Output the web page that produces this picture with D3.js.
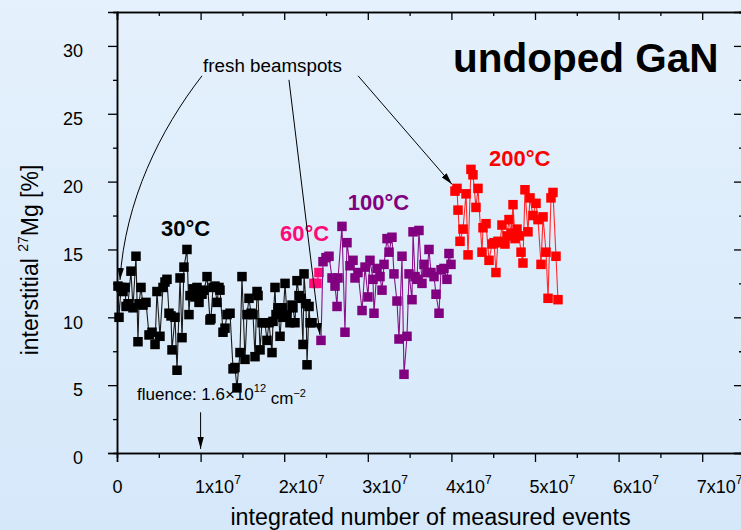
<!DOCTYPE html>
<html>
<head>
<meta charset="utf-8">
<script src="https://cdn.jsdelivr.net/npm/d3@7"></script>
<style>
  html, body { margin: 0; padding: 0; }
  body { width: 741px; height: 530px; overflow: hidden; font-family: "Liberation Sans", Arial, sans-serif; }
</style>
</head>
<body>
<svg id="chart" width="741" height="530"></svg>
<script>
// integrated events in units of 10^6, interstitial fraction in %
const blackX = [0.12,0.24,0.48,0.72,0.96,1.08,1.32,1.67,1.91,2.27,2.51,2.63,2.87,3.11,3.47,3.83,4.19,4.55,4.78,5.14,5.50,5.74,5.98,6.22,6.46,6.58,6.94,7.18,7.54,7.78,8.01,8.37,8.61,8.73,9.09,9.33,9.57,9.81,10.17,10.41,10.77,11.12,11.24,11.48,11.72,11.96,12.20,12.32,12.68,12.92,13.16,13.52,13.88,14.11,14.35,14.71,14.95,15.31,15.55,15.79,16.03,16.27,16.51,16.75,16.87,17.11,17.34,17.70,17.94,18.18,18.54,18.66,18.90,19.02,19.26,19.50,19.74,19.86,20.10,20.33,20.69,20.93,21.05,21.29,21.53,21.77,22.01,22.25,22.37,22.61,22.73,22.97,23.09,23.33];
const blackY = [12.3,10.0,12.2,11.9,12.2,10.8,11.0,13.4,10.7,14.5,8.2,11.0,12.2,10.9,11.1,8.7,8.9,8.0,11.9,8.6,12.2,12.6,12.8,10.3,10.1,7.6,10.0,6.1,12.9,8.5,13.7,15.0,10.2,11.6,12.1,11.5,12.2,11.1,11.7,12.0,13.0,9.8,9.9,12.2,12.3,11.1,12.2,12.0,8.9,9.2,10.2,10.3,6.2,6.3,4.8,7.4,13.0,6.9,10.2,11.4,10.3,10.2,7.1,11.9,11.6,7.6,9.6,9.6,8.3,9.6,7.4,9.7,12.2,10.2,10.7,8.6,10.7,10.0,12.5,10.2,9.6,10.9,10.7,9.6,12.7,11.6,11.4,8.0,13.2,11.0,6.5,10.8,9.6,9.6];

const pinkX = [23.56,23.92,24.16];
const pinkY = [12.5,12.5,13.3];

const purpleX = [24.40,24.64,25.00,25.36,25.72,26.08,26.32,26.44,26.91,27.27,27.51,27.87,28.23,28.47,28.83,29.31,29.67,30.02,30.26,30.62,30.74,31.10,31.46,31.70,31.94,32.30,32.54,32.89,33.13,33.49,33.73,34.09,34.33,34.69,34.93,35.29,35.41,35.65,35.89,36.12,36.48,36.72,37.08,37.32,37.56,37.92,38.16,38.52,38.76,39.11,39.47,39.71,39.95];
const purpleY = [8.3,14.1,14.4,14.5,12.9,12.3,10.8,12.9,16.7,8.9,15.5,13.8,14.2,12.9,13.3,10.5,13.7,11.5,14.2,12.8,10.3,13.6,13.0,12.0,13.9,15.8,14.8,15.9,13.2,11.2,8.4,14.5,5.8,8.6,13.2,11.3,16.3,13.0,12.8,16.4,12.5,13.9,13.3,15.0,13.3,13.0,11.7,10.3,13.5,13.6,12.8,14.7,13.9];

const redX = [40.43,40.67,40.79,41.03,41.39,41.75,41.99,42.34,42.58,42.94,43.18,43.66,43.78,44.14,44.50,44.86,45.10,45.33,45.57,45.81,46.05,46.41,46.65,46.89,47.13,47.37,47.61,47.85,48.09,48.33,48.56,48.80,49.16,49.40,49.76,50.12,50.36,50.72,50.96,51.32,51.56,51.91,52.15,52.51,52.75];
const redY = [19.3,19.5,17.9,15.6,16.5,19.1,14.6,20.9,20.5,18.1,19.5,14.8,16.6,16.9,14.2,15.4,15.5,13.3,15.6,15.5,16.8,15.4,16.0,17.2,16.2,18.3,15.8,16.5,16.0,14.8,14.0,19.4,16.3,18.8,17.5,18.4,17.2,13.9,17.4,14.8,11.4,18.8,19.2,14.5,11.3];

const xTicks = [0,10,20,30,40,50,60,70];
const xMinorTicks = [5,15,25,35,45,55,65,75];
const yTicks = [0,5,10,15,20,25,30];
const yMinorTicks = [2.5,7.5,12.5,17.5,22.5,27.5,32.5];

const series = [
  {name: "30°C",  xs: blackX,  ys: blackY,  color: "#000000", line: "#1a1a1a"},
  {name: "60°C",  xs: pinkX,   ys: pinkY,   color: "#ff0a78", line: "#ff0a78"},
  {name: "100°C", xs: purpleX, ys: purpleY, color: "#800080", line: "#8a108a"},
  {name: "200°C", xs: redX,    ys: redY,    color: "#ff0000", line: "#ff2a2a"}
];

const W = 741, H = 530;
const margin = {left: 117, right: -3, top: 12, bottom: 77};
const svg = d3.select("#chart");

// background wash
const defs = svg.append("defs");
const grad = defs.append("linearGradient").attr("id", "bg").attr("x1", 0).attr("y1", 0).attr("x2", 0).attr("y2", 1);
grad.append("stop").attr("offset", "0%").attr("stop-color", "#e5f1fc");
grad.append("stop").attr("offset", "100%").attr("stop-color", "#d5e8fa");
svg.append("rect").attr("width", W).attr("height", H).attr("fill", "url(#bg)");

defs.append("marker")
  .attr("id", "arrowhead").attr("viewBox", "0 0 12 8")
  .attr("refX", 12).attr("refY", 4)
  .attr("markerWidth", 12).attr("markerHeight", 8)
  .attr("markerUnits", "userSpaceOnUse")
  .attr("orient", "auto")
  .append("path").attr("d", "M0,0.8 L12,4 L0,7.2 Z").attr("fill", "#000");

const x = d3.scaleLinear().domain([0, 75]).range([margin.left, W - margin.right]);
const y = d3.scaleLinear().domain([0, 32.5]).range([H - margin.bottom, margin.top]);

const x0 = x.range()[0], x1 = x.range()[1];
const y0 = y.range()[0], y1 = y.range()[1];

// axes
function styleAxis(g) {
  g.select(".domain").attr("stroke", "#000").attr("stroke-width", 1.5);
  g.selectAll(".tick line").attr("stroke", "#000").attr("stroke-width", 1.3);
}

const fmtX = d => d === 0 ? "0" : (d / 10) + "x10";

const gxMinor = svg.append("g").attr("transform", `translate(0,${y0})`)
  .call(d3.axisBottom(x).tickValues(xMinorTicks).tickSize(5).tickFormat(""));
styleAxis(gxMinor);
const gx = svg.append("g").attr("transform", `translate(0,${y0})`)
  .call(d3.axisBottom(x).tickValues(xTicks).tickSize(9).tickPadding(18).tickFormat(fmtX));
styleAxis(gx);
gx.selectAll(".tick text")
  .attr("font-size", 18).attr("font-family", "Liberation Sans, Arial, sans-serif").attr("fill", "#000")
  .attr("text-anchor", d => d === 0 ? "middle" : "start")
  .attr("x", d => d === 0 ? 0 : -6)
  .each(function(d) {
    if (d !== 0) {
      d3.select(this).append("tspan").attr("font-size", 12).attr("dy", "-0.75em").text("7");
    }
  });

const gyMinor = svg.append("g").attr("transform", `translate(${x0},0)`)
  .call(d3.axisLeft(y).tickValues(yMinorTicks).tickSize(4).tickFormat(""));
styleAxis(gyMinor);
const gy = svg.append("g").attr("transform", `translate(${x0},0)`)
  .call(d3.axisLeft(y).tickValues(yTicks).tickSize(9).tickPadding(25).tickFormat(d3.format("d")));
styleAxis(gy);
gy.selectAll(".tick text")
  .attr("font-size", 18).attr("font-family", "Liberation Sans, Arial, sans-serif").attr("fill", "#000")
  .attr("dy", "0.6em");

// mirrored top and right axes with inward ticks
const gtMinor = svg.append("g").attr("transform", `translate(0,${y1})`)
  .call(d3.axisTop(x).tickValues(xMinorTicks).tickSize(-4).tickFormat(""));
styleAxis(gtMinor);
const gt = svg.append("g").attr("transform", `translate(0,${y1})`)
  .call(d3.axisTop(x).tickValues(xTicks).tickSize(-8).tickFormat(""));
styleAxis(gt);

const grMinor = svg.append("g").attr("transform", `translate(${x1},0)`)
  .call(d3.axisRight(y).tickValues(yMinorTicks).tickSize(-5).tickFormat(""));
styleAxis(grMinor);
const gr = svg.append("g").attr("transform", `translate(${x1},0)`)
  .call(d3.axisRight(y).tickValues(yTicks).tickSize(-10).tickFormat(""));
styleAxis(gr);

// axis titles
svg.append("text")
  .attr("x", (x0 + x1) / 2).attr("y", 525)
  .attr("text-anchor", "middle").attr("font-size", 23.3).attr("fill", "#000")
  .text("integrated number of measured events");

const yt = svg.append("text")
  .attr("transform", `translate(38,260) rotate(-90)`)
  .attr("text-anchor", "middle").attr("font-size", 23).attr("fill", "#000");
yt.append("tspan").text("interstitial ");
yt.append("tspan").attr("font-size", 14).attr("dy", "-0.75em").text("27");
yt.append("tspan").attr("dy", "0.45em").text("Mg [%]");

// data series: thin connecting line plus square markers
const line = d3.line().x(d => x(d[0])).y(d => y(d[1]));
const markerSize = 9.5;
series.forEach(s => {
  const pts = s.xs.map((v, i) => [v, s.ys[i]]);
  svg.append("path").datum(pts)
    .attr("d", line).attr("fill", "none")
    .attr("stroke", s.line).attr("stroke-width", 1.1);
  svg.append("g").selectAll("rect").data(pts).join("rect")
    .attr("x", d => x(d[0]) - markerSize / 2)
    .attr("y", d => y(d[1]) - markerSize / 2)
    .attr("width", markerSize).attr("height", markerSize)
    .attr("fill", s.color);
});

// temperature labels
const tempLabels = [
  {text: "30°C",  x: 5.26, y: 16.0, color: "#000000"},
  {text: "60°C",  x: 19.5, y: 15.6, color: "#ff0a78"},
  {text: "100°C", x: 27.6, y: 17.9, color: "#800080"},
  {text: "200°C", x: 44.5, y: 21.15, color: "#ff0000"}
];
svg.append("g").selectAll("text").data(tempLabels).join("text")
  .attr("x", d => x(d.x)).attr("y", d => y(d.y))
  .attr("font-size", 22).attr("font-weight", "bold")
  .attr("fill", d => d.color).text(d => d.text);

svg.append("text")
  .attr("x", x(40.2)).attr("y", y(28.1))
  .attr("font-size", 40.5).attr("font-weight", "bold").attr("fill", "#000")
  .text("undoped GaN");

// "fresh beamspots" annotation with arrows to the start of each new spot
svg.append("text")
  .attr("x", x(10.3)).attr("y", y(28.1))
  .attr("font-size", 18.8).attr("fill", "#000")
  .text("fresh beamspots");

const arrowPaths = [
  `M${x(10.17)},${y(27.8)} C${x(5.14)},${y(23.8)} ${x(0.96)},${y(18.6)} ${x(0.36)},${y(12.75)}`,
  `M${x(20.57)},${y(27.5)} L${x(24.28)},${y(8.7)}`,
  `M${x(28.83)},${y(27.8)} L${x(40.07)},${y(19.8)}`,
  `M${x(10)},${y(3.0)} L${x(10)},${y(0.3)}`
];
svg.append("g").selectAll("path").data(arrowPaths).join("path")
  .attr("d", d => d).attr("fill", "none")
  .attr("stroke", "#000").attr("stroke-width", 1)
  .attr("marker-end", "url(#arrowhead)");

// fluence note
const fl = svg.append("text")
  .attr("x", x(2.4)).attr("y", y(3.9))
  .attr("font-size", 17).attr("fill", "#000");
fl.append("tspan").text("fluence: 1.6×10");
fl.append("tspan").attr("font-size", 11).attr("dy", "-0.7em").text("12");
fl.append("tspan").attr("dy", "0.7em").text(" cm");
fl.append("tspan").attr("font-size", 11).attr("dy", "-0.7em").text("−2");
</script>
</body>
</html>
